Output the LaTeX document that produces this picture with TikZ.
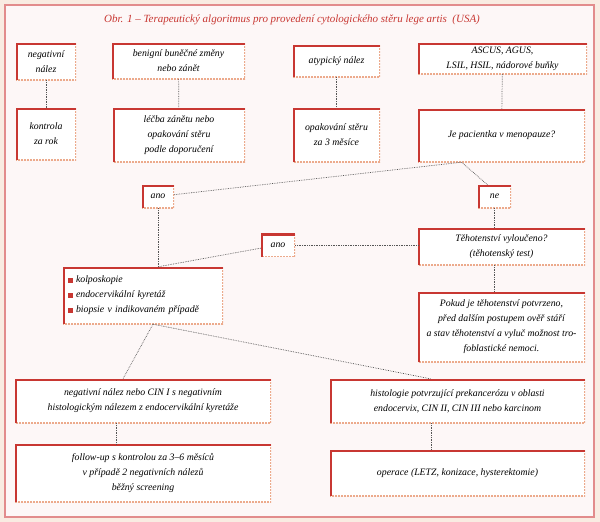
\documentclass[tikz,border=0pt]{standalone}
\usepackage{fontspec}
\setmainfont{Liberation Serif}
\usetikzlibrary{positioning,calc}
\definecolor{FrameRed}{RGB}{200,55,50}
\definecolor{EdgePeach}{RGB}{236,170,140}
\definecolor{PanelPink}{RGB}{253,247,247}
\definecolor{PagePeach}{RGB}{249,236,226}
\definecolor{PanelLine}{RGB}{226,140,140}
\definecolor{LinkGray}{RGB}{85,85,85}
\newcommand\sqbullet{{\color{FrameRed}\rule{5pt}{5pt}}\hspace{3pt}}

\begin{document}
\begin{tikzpicture}[
x=1pt,y=-1pt,
card/.style={
fill=white,inner sep=2pt,align=center,
font=\itshape\fontsize{9.8}{15}\selectfont,
path picture={
\draw[EdgePeach,densely dotted,line width=2pt]
(path picture bounding box.north east)--(path picture bounding box.south east)--(path picture bounding box.south west);
\draw[FrameRed,line width=4.6pt]
(path picture bounding box.south west)--(path picture bounding box.north west)--(path picture bounding box.north east);
}
},
heading/.style={text=FrameRed,font=\itshape\fontsize{11}{13}\selectfont},
link/.style={densely dotted,draw=LinkGray,line width=0.7pt}
]

% panel
\fill[PagePeach] (0,0) rectangle (600,522);
\draw[PanelLine,fill=PanelPink,line width=1.5pt] (5,5) rectangle (594,517);

\node[heading] (head) at (292,20) {Obr. 1 -- Terapeutický algoritmus pro provedení cytologického stěru lege artis~~(USA)};

% top row
\node[card,minimum width=60,minimum height=37] (neg) at (46,61.5) {negativní\\nález};
\node[card,minimum width=133,minimum height=36] (ben) at (178.5,61) {benigní buněčné změny\\nebo zánět};
\node[card,minimum width=87,minimum height=32] (atyp) at (336.5,61) {atypický nález};
\node[card,minimum width=169,minimum height=31] (ascus) at (502.5,58.5) {ASCUS, AGUS,\\LSIL, HSIL, nádorové buňky};

% second row
\node[card,minimum width=60,minimum height=52] (kontrola) at (46,134) {kontrola\\za rok};
\node[card,minimum width=132,minimum height=54] (lecba) at (179,135) {léčba zánětu nebo\\opakování stěru\\podle doporučení};
\node[card,minimum width=87,minimum height=54] (opak) at (336.5,135) {opakování stěru\\za 3 měsíce};
\node[card,minimum width=167,minimum height=53] (pac) at (501.5,135.5) {Je pacientka v menopauze?};

% decisions
\node[card,minimum width=32,minimum height=23] (ano1) at (158,196.5) {ano};
\node[card,minimum width=33,minimum height=23] (ne) at (494.5,196.5) {ne};
\node[card,minimum width=34,minimum height=23] (ano2) at (278,245) {ano};
\node[card,minimum width=167,minimum height=37] (teh) at (501.5,246.5) {Těhotenství vyloučeno?\\(těhotenský test)};
\node[card,minimum width=167,minimum height=70] (pok) at (501.5,327) {Pokud je těhotenství potvrzeno,\\před dalším postupem ověř stáří\\a stav těhotenství a vyluč možnost tro-\\foblastické nemoci.};
\node[card,align=left,inner xsep=5pt,text width=150,minimum height=57] (exam) at (143,295.5)
{\sqbullet kolposkopie\\\sqbullet endocervikální kyretáž\\\sqbullet biopsie v indikovaném případě};

% bottom rows
\node[card,minimum width=256,minimum height=44] (negcin) at (143,401) {negativní nález nebo CIN I s negativním\\histologickým nálezem z endocervikální kyretáže};
\node[card,minimum width=256,minimum height=58] (follow) at (143,473) {follow-up s kontrolou za 3--6 měsíců\\v případě 2 negativních nálezů\\běžný screening};
\node[card,minimum width=255,minimum height=44] (histo) at (457.5,401) {histologie potvrzující prekancerózu v oblasti\\endocervix, CIN II, CIN III nebo karcinom};
\node[card,minimum width=255,minimum height=46] (operace) at (457.5,473) {operace (LETZ, konizace, hysterektomie)};

% connectors
\draw[link] (neg)--(kontrola);
\draw[link] (ben)--(lecba);
\draw[link] (atyp)--(opak);
\draw[link] (ascus)--(pac);

\coordinate (split) at ([xshift=-40]pac.south);
\draw[link] (ano1)--(split);
\draw[link] (split)--([xshift=-7]ne.north);
\draw[link] (ne)--(ne |- teh.north);
\draw[link] (ano2.east)--(ano2.east -| teh.west);
\draw[link] (teh.south -| ne)--(pok.north -| ne);

\coordinate (join) at (ano1.south |- exam.north);
\draw[link] (ano1)--(join);
\draw[link] (ano2)--(join);

\coordinate (fork) at ([xshift=10]exam.south);
\draw[link] (fork)--([xshift=-20]negcin.north);
\draw[link] (fork)--([xshift=-27]histo.north);
\draw[link] ([xshift=-27]negcin.south)--([xshift=-27]follow.north);
\draw[link] ([xshift=-26]histo.south)--([xshift=-26]operace.north);

\end{tikzpicture}
\end{document}
